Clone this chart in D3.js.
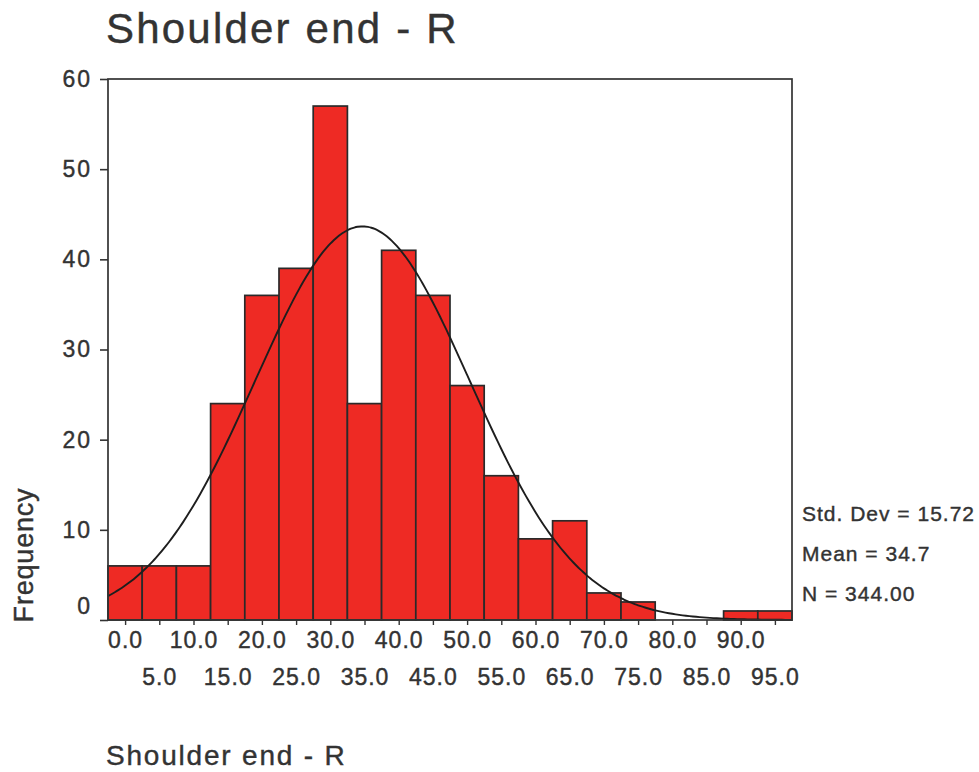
<!DOCTYPE html>
<html>
<head>
<meta charset="utf-8">
<script src="https://cdn.jsdelivr.net/npm/d3@7"></script>
<style>
  html, body { margin: 0; padding: 0; background: #fff; }
  svg { display: block; font-family: "Liberation Sans", Arial, Helvetica, sans-serif; }
  svg text { stroke: #333; stroke-width: 0.4px; }
</style>
</head>
<body>
<svg id="chart" width="979" height="772"></svg>
<script>
// ---- data ----
const binCenters = [0,5,10,15,20,25,30,35,40,45,50,55,60,65,70,75,80,85,90,95];
const frequencies = [6,6,6,24,36,39,57,24,41,36,26,16,9,11,3,2,0,0,1,1];
const binWidth = 5;
const yTicks = [0,10,20,30,40,50,60];
const xTickLabels = ["0.0","5.0","10.0","15.0","20.0","25.0","30.0","35.0","40.0","45.0","50.0","55.0","60.0","65.0","70.0","75.0","80.0","85.0","90.0","95.0"];
const stdDev = 15.72;
const mean = 34.7;
const nCount = 344;
const statLabels = ["Std. Dev = 15.72", "Mean = 34.7", "N = 344.00"];
const titleText = "Shoulder end - R";
const yAxisTitle = "Frequency";
const xAxisTitle = "Shoulder end - R";

// ---- layout ----
const svg = d3.select("#chart");
const pLeft = 108, pRight = 792, pTop = 79, pBottom = 620;
const ink = "#333";
const red = "#ee2a24";

const x = d3.scaleLinear().domain([-2.5, 97.5]).range([pLeft, pRight]);
const y = d3.scaleLinear().domain([0, 60]).range([pBottom, pTop]);

// title
svg.append("text")
  .attr("x", 106).attr("y", 43)
  .attr("font-size", 42).attr("letter-spacing", 2.2)
  .attr("fill", ink)
  .text(titleText);

// bars
const bars = binCenters.map((c, i) => ({c, f: frequencies[i]})).filter(d => d.f > 0);
svg.append("g").selectAll("rect").data(bars).join("rect")
  .attr("x", d => x(d.c - binWidth / 2))
  .attr("width", d => x(d.c + binWidth / 2) - x(d.c - binWidth / 2))
  .attr("y", d => y(d.f))
  .attr("height", d => y(0) - y(d.f))
  .attr("fill", red)
  .attr("stroke", "#2a2a2a")
  .attr("stroke-width", 1.7);

// normal curve from stated mean / std dev / N
const pts = d3.range(-2.5, 97.5001, 0.5).map(v => {
  const z = (v - mean) / stdDev;
  return [v, nCount * binWidth / (stdDev * Math.sqrt(2 * Math.PI)) * Math.exp(-0.5 * z * z)];
});
svg.append("path")
  .datum(pts)
  .attr("d", d3.line().x(d => x(d[0])).y(d => y(d[1])).curve(d3.curveMonotoneX))
  .attr("fill", "none")
  .attr("stroke", "#1e1e1e")
  .attr("stroke-width", 1.9);

// frame
svg.append("rect")
  .attr("x", pLeft).attr("y", pTop)
  .attr("width", pRight - pLeft).attr("height", pBottom - pTop)
  .attr("fill", "none").attr("stroke", ink).attr("stroke-width", 1.7);

// y axis
const yAxis = svg.append("g")
  .attr("transform", `translate(${pLeft},0)`)
  .call(d3.axisLeft(y).tickValues(yTicks).tickFormat(d3.format("d")).tickSize(8).tickPadding(8));
yAxis.select(".domain").remove();
yAxis.selectAll(".tick line").attr("stroke", ink).attr("stroke-width", 1.6);
yAxis.selectAll(".tick text")
  .attr("font-size", 23).attr("letter-spacing", 2)
  .attr("font-family", "Liberation Sans, Arial, sans-serif")
  .attr("fill", ink);
yAxis.selectAll(".tick").filter(d => d === 0).select("text").attr("dy", "-0.3em");

// x axis
const xAxis = svg.append("g")
  .attr("transform", `translate(0,${pBottom})`)
  .call(d3.axisBottom(x).tickValues(binCenters).tickFormat((d, i) => xTickLabels[i]).tickSize(5).tickPadding(12));
xAxis.select(".domain").remove();
xAxis.selectAll(".tick line").attr("stroke", ink).attr("stroke-width", 1.4);
xAxis.selectAll(".tick text")
  .attr("font-size", 23).attr("letter-spacing", 1)
  .attr("font-family", "Liberation Sans, Arial, sans-serif")
  .attr("fill", ink)
  .attr("y", (d, i) => i % 2 === 0 ? 12 : 49);

// y axis title
svg.append("text")
  .attr("transform", "translate(33,555) rotate(-90)")
  .attr("text-anchor", "middle")
  .attr("font-size", 27).attr("letter-spacing", 0.8)
  .attr("fill", ink)
  .text(yAxisTitle);

// stats
svg.append("g").selectAll("text").data(statLabels).join("text")
  .attr("x", 802)
  .attr("y", (d, i) => 521 + i * 40)
  .attr("font-size", 21).attr("letter-spacing", 1)
  .attr("fill", ink)
  .text(d => d);

// x axis title
svg.append("text")
  .attr("x", 106).attr("y", 765)
  .attr("font-size", 28).attr("letter-spacing", 1.8)
  .attr("fill", ink)
  .text(xAxisTitle);
</script>
</body>
</html>
